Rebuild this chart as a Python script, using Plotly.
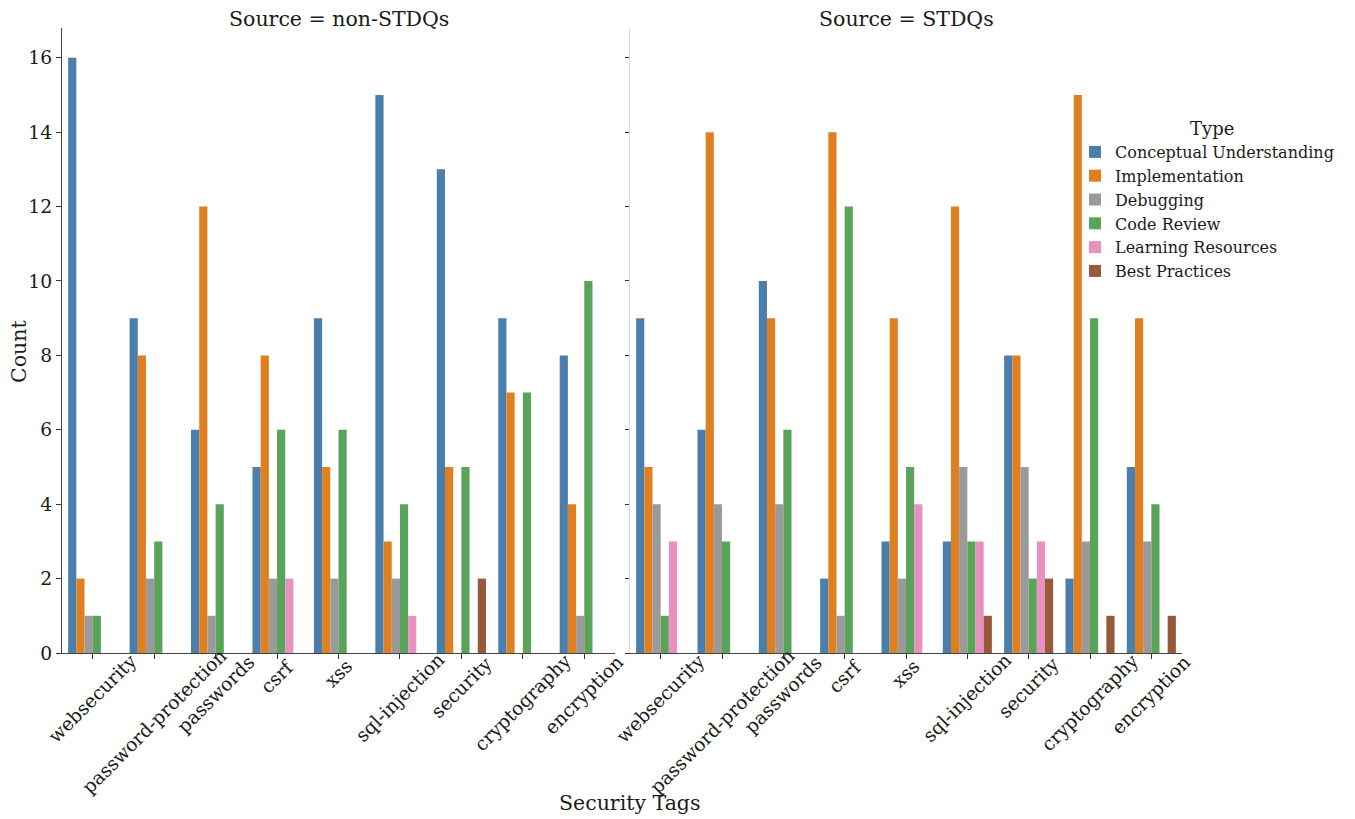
import plotly.graph_objects as go
from plotly.subplots import make_subplots

tags = ["websecurity", "password-protection", "passwords", "csrf", "xss",
        "sql-injection", "security", "cryptography", "encryption"]
types = ["Conceptual Understanding", "Implementation", "Debugging",
         "Code Review", "Learning Resources", "Best Practices"]
colors = ["#4a7eac", "#e07f20", "#9a9a9a", "#5aa35a", "#e891c0", "#965a3a"]

# non-STDQs counts per type (order of tags)
non_conceptual = [16, 9, 6, 5, 9, 15, 13, 9, 8]
non_implementation = [2, 8, 12, 8, 5, 3, 5, 7, 4]
non_debugging = [1, 2, 1, 2, 2, 2, 0, 0, 1]
non_code_review = [1, 3, 4, 6, 6, 4, 5, 7, 10]
non_learning = [0, 0, 0, 2, 0, 1, 0, 0, 0]
non_best = [0, 0, 0, 0, 0, 0, 2, 0, 0]

# STDQs counts per type
st_conceptual = [9, 6, 10, 2, 3, 3, 8, 2, 5]
st_implementation = [5, 14, 9, 14, 9, 12, 8, 15, 9]
st_debugging = [4, 4, 4, 1, 2, 5, 5, 3, 3]
st_code_review = [1, 3, 6, 12, 5, 3, 2, 9, 4]
st_learning = [3, 0, 0, 0, 4, 3, 3, 0, 0]
st_best = [0, 0, 0, 0, 0, 1, 2, 1, 1]

non_series = [non_conceptual, non_implementation, non_debugging,
              non_code_review, non_learning, non_best]
st_series = [st_conceptual, st_implementation, st_debugging,
             st_code_review, st_learning, st_best]

FONT = "DejaVu Serif"
W, H = 1355, 819
OFF = 8  # page body margin

fig = make_subplots(rows=1, cols=2, shared_yaxes=True)

for i, t in enumerate(types):
    fig.add_trace(go.Bar(x=tags, y=non_series[i], name=t, marker_color=colors[i],
                         marker_line_width=0, legendgroup=t, showlegend=True),
                  row=1, col=1)
    fig.add_trace(go.Bar(x=tags, y=st_series[i], name=t, marker_color=colors[i],
                         marker_line_width=0, legendgroup=t, showlegend=False),
                  row=1, col=2)

def px(x):
    return (x - OFF) / W

def py(y):
    return (H - (y - OFF)) / H

xd1 = [px(62), px(615)]
xd2 = [px(630), px(1182)]
yd = [py(653), py(28)]

common_x = dict(showgrid=False, zeroline=False, showline=True, linecolor="#444444",
                linewidth=1.3, ticks="outside", ticklen=5, tickcolor="#333333",
                showticklabels=False, automargin=False, range=[-0.5, 8.5],
                fixedrange=True)

annotations = [
    dict(text="Source = non-STDQs", x=(xd1[0] + xd1[1]) / 2, y=py(19.5),
         xref="paper", yref="paper", showarrow=False,
         font=dict(family=FONT, size=20.5), xanchor="center", yanchor="middle"),
    dict(text="Source = STDQs", x=(xd2[0] + xd2[1]) / 2, y=py(19.5),
         xref="paper", yref="paper", showarrow=False,
         font=dict(family=FONT, size=20.5), xanchor="center", yanchor="middle"),
    dict(text="Security Tags", x=px(630), y=py(803),
         xref="paper", yref="paper", showarrow=False,
         font=dict(family=FONT, size=20.5), xanchor="center", yanchor="middle"),
    dict(text="Count", x=px(19), y=py(352), textangle=-90,
         xref="paper", yref="paper", showarrow=False,
         font=dict(family=FONT, size=20.5), xanchor="center", yanchor="middle"),
    dict(text="Type", x=px(1212), y=py(128),
         xref="paper", yref="paper", showarrow=False,
         font=dict(family=FONT, size=18), xanchor="center", yanchor="middle"),
]
# rotated category labels centred under each tick (matplotlib style);
# plotly's rotated-box anchoring drifts with label length, so compensate
for xref in ["x", "x2"]:
    for tag in tags:
        ytop = 655 - 0.67 * len(tag)
        annotations.append(dict(text=tag, x=tag, xref=xref, y=py(ytop), yref="paper",
                                showarrow=False, textangle=-45, xanchor="center",
                                yanchor="top",
                                font=dict(family=FONT, size=18.7, color="#1a1a1a")))

fig.update_layout(
    xaxis=dict(domain=xd1, **common_x),
    xaxis2=dict(domain=xd2, **common_x),
    yaxis=dict(domain=yd, range=[0, 16.8], dtick=2, showgrid=False, zeroline=False,
               showline=True, linecolor="#444444", linewidth=1.3, ticks="outside",
               ticklen=5, tickcolor="#333333",
               tickfont=dict(family=FONT, size=18.7, color="#1a1a1a"), automargin=False),
    yaxis2=dict(domain=yd, range=[0, 16.8], dtick=2, showgrid=False, zeroline=False,
                showline=True, linecolor="#d9d9d9", linewidth=1.3, ticks="outside",
                ticklen=4, tickcolor="#333333", showticklabels=False, automargin=False,
                matches="y"),
    barmode="group", bargap=0.2, bargroupgap=0,
    width=W, height=H,
    margin=dict(l=0, r=0, t=0, b=0),
    paper_bgcolor="white", plot_bgcolor="white",
    font=dict(family=FONT, color="#1a1a1a"),
    legend=dict(x=px(1075), y=py(135), xanchor="left", yanchor="top",
                bgcolor="rgba(0,0,0,0)",
                font=dict(family=FONT, size=16), tracegroupgap=0,
                itemwidth=30, traceorder="normal"),
    annotations=annotations,
)

fig.write_html("out.html")
